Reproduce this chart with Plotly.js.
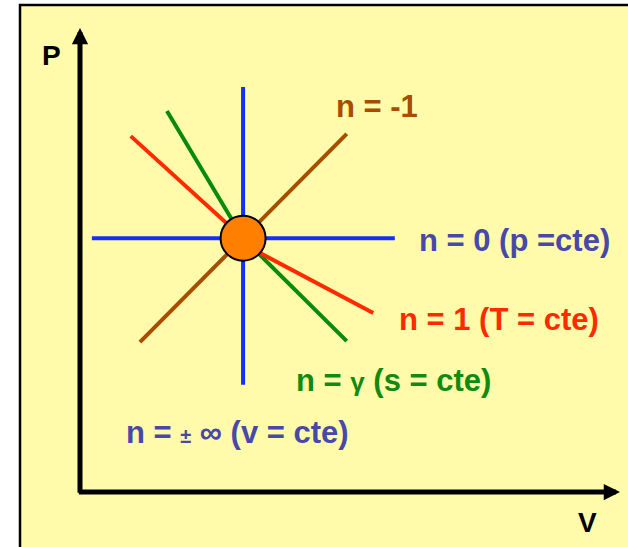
<!DOCTYPE html>
<html>
<head>
<meta charset="utf-8">
<script src="https://cdn.plot.ly/plotly-3.0.1.min.js"></script>
<style>html,body{margin:0;padding:0;background:#fff;}</style>
</head>
<body>
<div id="chart" style="width:628px;height:547px;"></div>
<script>
// Reference state (centre point)
const centerV = [3.02];
const centerP = [5.47];

// n = 0 (p = cte) : horizontal
const isobarV = [0.22, 3.02, 5.83];
const isobarP = [5.47, 5.47, 5.47];

// n = ±inf (v = cte) : vertical
const isochoreV = [3.02, 3.02, 3.02];
const isochoreP = [8.73, 5.47, 2.31];

// n = -1
const nMinus1V = [1.11, 3.02, 4.94];
const nMinus1P = [3.23, 5.47, 7.72];

// n = 1 (T = cte)
const isothermV = [0.94, 3.02, 3.37, 5.43];
const isothermP = [7.67, 5.47, 5.13, 3.86];

// n = gamma (s = cte)
const isentropeV = [1.61, 3.02, 4.94];
const isentropeP = [8.21, 5.47, 3.25];

// Labels
const labelTexts = [
  'n = -1',
  'n = 0 (p =cte)',
  'n = 1 (T = cte)',
  'n = <span style="font-size:26px">γ</span> (s = cte)',
  'n = <span style="font-size:20px">±</span> ∞ (v = cte)'
];
const labelV = [4.70, 6.24, 5.87, 3.96, 0.81];
const labelP = [8.30, 5.43, 3.71, 2.41, 1.29];
const labelColors = ['#A84C00', '#4848A8', '#FF2A00', '#108A10', '#4848A8'];

const axisLabels = ['P', 'V'];

const FONT = '"Liberation Sans", Arial, sans-serif';
const FS = 31;
const LW = 4;

const traces = [
  {x: isobarV, y: isobarP, mode: 'lines', line: {color: '#1030FF', width: LW}},
  {x: isochoreV, y: isochoreP, mode: 'lines', line: {color: '#1030FF', width: LW}},
  {x: nMinus1V, y: nMinus1P, mode: 'lines', line: {color: '#A84C00', width: LW}},
  {x: isentropeV, y: isentropeP, mode: 'lines', line: {color: '#0A8A0A', width: LW}},
  {x: isothermV, y: isothermP, mode: 'lines', line: {color: '#FF2A00', width: LW}},
  {x: centerV, y: centerP, mode: 'markers', marker: {color: '#FF8000', size: 45, line: {color: '#000', width: 2}}}
];

const annotations = labelTexts.map((t, i) => ({
  x: labelV[i], y: labelP[i], xref: 'x', yref: 'y',
  text: '<b>' + t + '</b>', showarrow: false,
  xanchor: 'left', yanchor: 'middle',
  font: {family: FONT, size: FS, color: labelColors[i]}
}));

// axis titles (paper coordinates, outside the data range)
annotations.push({x: -0.052, y: 0.9397, xref: 'paper', yref: 'paper', text: '<b>' + axisLabels[0] + '</b>',
  showarrow: false, xanchor: 'center', yanchor: 'middle', font: {family: FONT, size: 28, color: '#000'}});
annotations.push({x: 0.939, y: -0.0647, xref: 'paper', yref: 'paper', text: '<b>' + axisLabels[1] + '</b>',
  showarrow: false, xanchor: 'center', yanchor: 'middle', font: {family: FONT, size: 28, color: '#000'}});

// axis arrows
annotations.push({x: 0, y: 10, ax: 0, ay: -0.05, xref: 'x', yref: 'y', axref: 'x', ayref: 'y',
  text: '', showarrow: true, arrowhead: 2, arrowsize: 0.65, arrowwidth: 5, arrowcolor: '#000'});
annotations.push({x: 10, y: 0, ax: -0.05, ay: 0, xref: 'x', yref: 'y', axref: 'x', ayref: 'y',
  text: '', showarrow: true, arrowhead: 2, arrowsize: 0.65, arrowwidth: 5, arrowcolor: '#000'});

const layout = {
  width: 628, height: 547,
  margin: {l: 80, r: 8, t: 28, b: 55},
  paper_bgcolor: '#FFFFFF',
  plot_bgcolor: 'rgba(0,0,0,0)',
  showlegend: false,
  xaxis: {range: [0, 10], visible: false, fixedrange: true},
  yaxis: {range: [0, 10], visible: false, fixedrange: true},
  shapes: [{
    type: 'rect', xref: 'paper', yref: 'paper', layer: 'below',
    x0: -0.1111, x1: 1.06, y0: -0.16, y1: 1.0496,
    fillcolor: '#FFFBAA', line: {color: '#000', width: 2.5}
  }],
  annotations: annotations
};

Plotly.newPlot('chart', traces, layout, {displayModeBar: false, staticPlot: true});
</script>
</body>
</html>
